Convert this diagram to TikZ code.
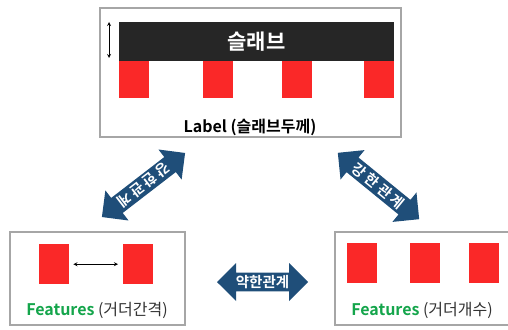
\documentclass[tikz,border=0pt]{standalone}
\usepackage{fontspec}
\setmainfont{Noto Sans CJK KR}[BoldFont={Noto Sans CJK KR Bold}]
\usetikzlibrary{shapes, arrows, calc, positioning}
\definecolor{panelgray}{RGB}{166,166,166}
\definecolor{slabdark}{RGB}{38,38,38}
\definecolor{girderred}{RGB}{250,40,40}
\definecolor{relblue}{RGB}{31,78,121}
\definecolor{featgreen}{RGB}{20,165,75}
\definecolor{captext}{RGB}{50,50,50}

\begin{document}
\begin{tikzpicture}[>=stealth, x=1pt, y=-1pt]
    \tikzstyle{panel} = [draw=panelgray, line width=1.6pt, inner sep=0pt]
    \tikzstyle{girder} = [fill=girderred, inner sep=0pt, minimum width=30pt,
	minimum height=37pt, anchor=north west]
    \tikzstyle{caption} = [text=captext, font=\fontsize{16}{18}\selectfont]
    \tikzstyle{relation} = [double arrow, fill=relblue, text=white,
	font=\fontsize{14.5}{16}\selectfont\bfseries, minimum width=38pt,
	double arrow head extend=9pt, inner xsep=0pt, inner ysep=2pt]

    \useasboundingbox (0,0) rectangle (508,329);
    \clip (0,0) rectangle (508,329);

		% slab (label)
		\path
			node[panel, minimum width=301pt, minimum height=129pt] (label) at (250.5,72.5) {}
			node[girder] (t1) at (119,61) {}
			node[girder] (t2) at (203,61) {}
			node[girder] (t3) at (282,61) {}
			node[girder] (t4) at (364,61) {}
			node[fill=slabdark, text=white, minimum width=275pt, minimum height=39pt,
				font=\fontsize{21}{23}\selectfont\bfseries] (slab) at (256.5,41.5) {슬래브}
			node[caption, font=\fontsize{16}{18}\selectfont\bfseries, text=black] (labeltext) at (250,127) {Label (슬래브두께)}
		;
		\coordinate (thtop) at (109,22);
		\coordinate (thbot) at (109,58);
		\draw[<->, thick] (thtop) -- (thbot);

		% girder spacing
		\path
			node[panel, minimum width=175pt, minimum height=93pt] (spacing) at (97.5,278.5) {}
			node[girder, minimum height=40pt] (s1) at (39,244) {}
			node[girder, minimum height=40pt] (s2) at (123,244) {}
			node[caption] (spacingtext) at (97,310) {{\color{featgreen}\bfseries Features} (거더간격)}
		;
		\draw[<->, thick, shorten <=4pt, shorten >=5pt] (s1.east) -- (s2.west);

		% girder count
		\path
			node[panel, minimum width=177pt, minimum height=93pt] (count) at (423.5,278.5) {}
			node[girder, minimum height=40pt] (c1) at (347,243) {}
			node[girder, minimum height=40pt] (c2) at (410,243) {}
			node[girder, minimum height=40pt] (c3) at (469,243) {}
			node[caption] (counttext) at (422,310) {{\color{featgreen}\bfseries Features} (거더개수)}
		;

		% relations
		\path
			node[relation, minimum height=105pt, rotate=217.6] (strongleft) at (143.5,185) {강\hspace{3pt}한\hspace{3pt}관\hspace{3pt}계}
			node[relation, minimum height=105pt, rotate=-39.2] (strongright) at (378.5,186) {강\hspace{3pt}한\hspace{3pt}관\hspace{3pt}계}
			node[relation, minimum height=91pt] (weak) at (262.5,282) {약한관계}
		;

\end{tikzpicture}
\end{document}
